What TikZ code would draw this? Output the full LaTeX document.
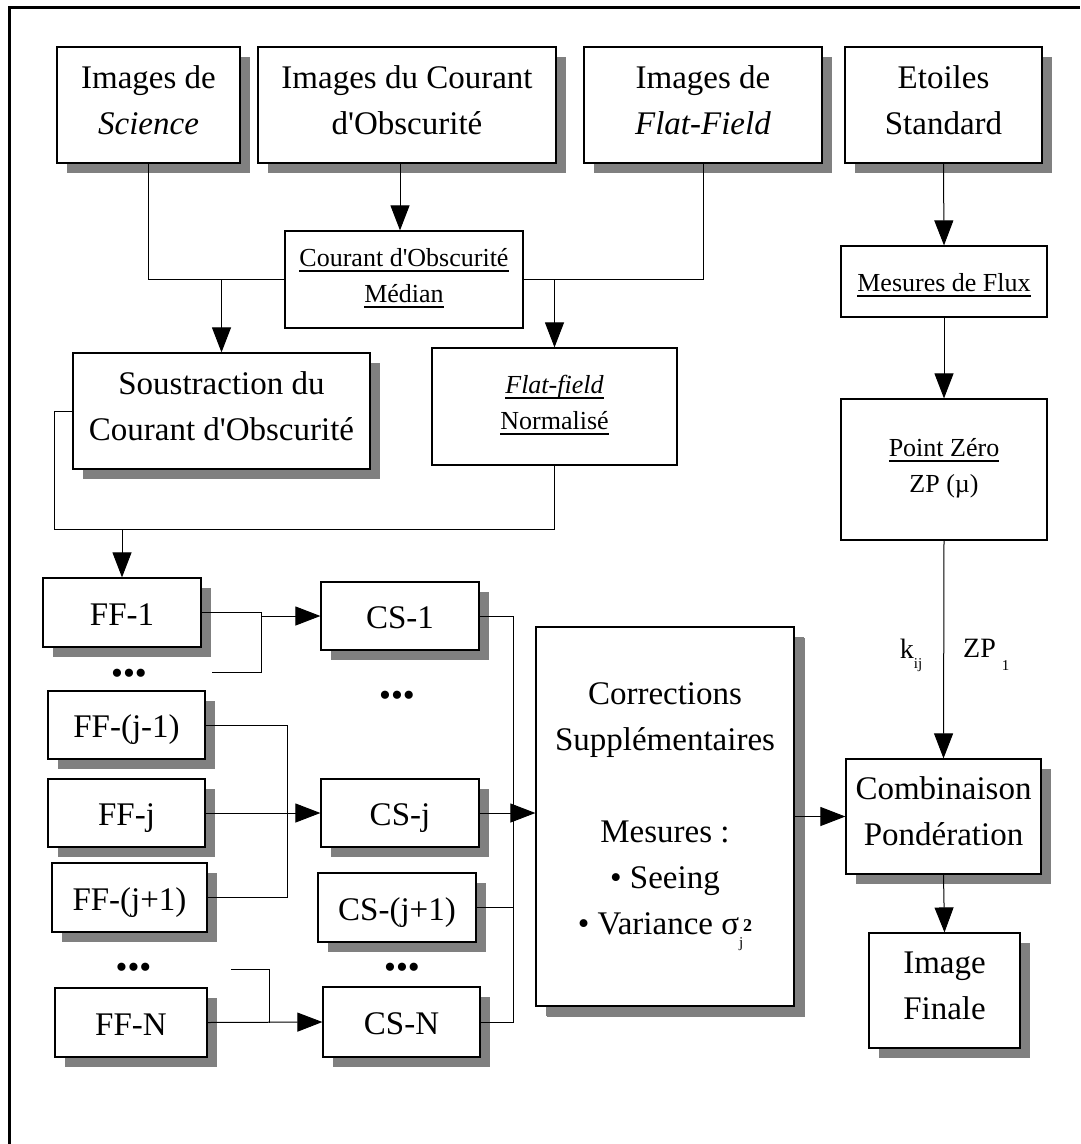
\documentclass[tikz,border=0pt]{standalone}
\usepackage{fontspec}
\setmainfont{Liberation Serif}[Ligatures=TeXOff]
\usetikzlibrary{arrows.meta,shadows}
\definecolor{shade}{HTML}{808080}
\newcommand\sst{\rule[-0.22\baselineskip]{0pt}{\baselineskip}}
\newcommand\ulx[1]{\setbox0\hbox{#1}\rlap{\rule[-5.5pt]{\wd0}{2.5pt}}\box0}
\begin{document}
\begin{tikzpicture}[x=1pt,y=-1pt,
  box/.style={draw=black, line width=1.2pt, fill=white, inner sep=2pt, align=center,
    font=\fontsize{33}{46}\selectfont, execute at begin node=\sst, execute at end node=\sst},
  shad/.style={box, drop shadow={shadow xshift=10pt, shadow yshift=-10pt, fill=shade, opacity=1}},
  small/.style={box, font=\fontsize{26}{36}\selectfont},
  conn/.style={line width=1pt},
  arr/.style={conn, -{Triangle[length=25pt,width=19pt]}},
  dots/.style={font=\fontsize{34}{34}\selectfont, inner sep=0pt},
  lab/.style={font=\fontsize{28}{28}\selectfont, inner sep=0pt}]
\useasboundingbox (0,0) rectangle (1080,1144);
\fill[white] (0,0) rectangle (1080,1144);
\draw[line width=3pt] (9,1144) -- (9,7) -- (1080,7);

% top row
\node[shad, minimum width=183pt, minimum height=116pt] (sci) at (148.5,105) {Images de\\\textit{Science}};
\node[shad, minimum width=298pt, minimum height=116pt] (dark) at (407,105) {Images du Courant\\d'Obscurité};
\node[shad, minimum width=238pt, minimum height=116pt] (flat) at (703,105) {Images de\\\textit{Flat-Field}};
\node[shad, minimum width=197pt, minimum height=116pt] (stars) at (943.5,105) {Etoiles\\Standard};

% second level
\node[small, minimum width=238pt, minimum height=97pt] (median) at (404,279.5) {\ulx{Courant d'Obscurité}\\\ulx{Médian}};
\node[shad, minimum width=297pt, minimum height=116pt] (sous) at (221.5,411) {Soustraction du\\Courant d'Obscurité};
\node[small, minimum width=245pt, minimum height=117pt] (flatnorm) at (554.5,406.5) {\ulx{\textit{Flat-field}}\\\ulx{Normalisé}};
\node[small, minimum width=206pt, minimum height=71pt] (flux) at (944,281.5) {\ulx{Mesures de Flux}};
\node[small, minimum width=206pt, minimum height=141pt] (pz) at (944,469.5) {\ulx{Point Zéro}\\ZP (µ)};

% FF column
\node[shad, minimum width=158pt, minimum height=69pt] (ff1) at (122,612.5) {FF-1};
\node[shad, minimum width=157pt, minimum height=68pt] (ffjm) at (126.5,725) {FF-(j-1)};
\node[shad, minimum width=157pt, minimum height=68pt] (ffj) at (126.5,813) {FF-j};
\node[shad, minimum width=155pt, minimum height=69pt] (ffjp) at (129.5,897.5) {FF-(j+1)};
\node[shad, minimum width=152pt, minimum height=69pt] (ffN) at (131,1022.5) {FF-N};
\node[dots] (dA) at (129,677) {•••};
\node[dots] (dC) at (133.5,971) {•••};

% CS column
\node[shad, minimum width=158pt, minimum height=68pt] (cs1) at (400,616) {CS-1};
\node[shad, minimum width=158pt, minimum height=68pt] (csj) at (400,813) {CS-j};
\node[shad, minimum width=158pt, minimum height=69pt] (csjp) at (397,907.5) {CS-(j+1)};
\node[shad, minimum width=157pt, minimum height=70pt] (csN) at (401.5,1022) {CS-N};
\node[dots] (dB) at (397,699) {•••};
\node[dots] (dD) at (402,971) {•••};

% right part
\node[shad, minimum width=258pt, minimum height=379pt,
  drop shadow={shadow xshift=11pt, shadow yshift=-11pt, fill=shade, opacity=1}] (corr) at (665,816.5)
  {Corrections\\Supplémentaires\\[46pt]Mesures :\\• Seeing\\• Variance σ\raisebox{-13pt}{\fontsize{15}{15}\selectfont j}\raisebox{3pt}{\fontsize{18}{18}\selectfont\bfseries 2}};
\node[shad, minimum width=195pt, minimum height=115pt] (comb) at (943.5,816.5) {Combinaison\\Pondération};
\node[shad, minimum width=151pt, minimum height=115pt] (fin) at (944.5,990.5) {Image\\Finale};

% connectors, top
\draw[conn] (sci.south) |- (median.west);
\draw[conn] (flat.south) |- (median.east);
\draw[arr] ([xshift=-4pt]dark.south -| median.north) -- ([xshift=-4pt]median.north);
\draw[arr] (sous.north |- median.west) -- (sous.north);
\draw[arr] (flatnorm.north |- median.east) -- (flatnorm.north);
\draw[arr] (stars.south) -- (flux.north);
\draw[arr] (flux.south) -- (pz.north);
\draw[arr] (pz.south) --
  node[lab, pos=0.525, left=21pt] (kij) {k\raisebox{-10pt}{\fontsize{15}{15}\selectfont ij}}
  node[lab, pos=0.525, right=19pt] (zp1) {ZP\hspace{6pt}\raisebox{-13pt}{\fontsize{15}{15}\selectfont 1}}
  (comb.north);

% collect to FF-1
\coordinate (jl) at (54,529);
\draw[conn] (sous.west) -| (jl) -| (flatnorm.south);
\draw[arr] (ff1.north |- jl) -- (ff1.north);

% FF -> CS
\coordinate (d1) at (212,672);
\coordinate (m1) at (261,616);
\draw[conn] (ff1.east) -| (m1);
\draw[conn] (d1) -| (m1);
\draw[arr] (m1) -- (cs1.west);
\coordinate (m2) at (287,813);
\draw[conn] (ffjm.east) -| (m2);
\draw[conn] (ffjp.east) -| (m2);
\draw[arr] (ffj.east) -- (csj.west);
\coordinate (d2) at (231,969);
\coordinate (m3) at (269,1022.5);
\draw[conn] (d2) -| (m3);
\draw[arr] (ffN.east) -- (csN.west);

% CS -> corrections
\coordinate (bus) at (513,1022);
\draw[conn] (cs1.east) -| (bus) -- (csN.east);
\draw[conn] (csjp.east) -- (csjp.east -| bus);
\draw[arr] (csj.east) -- (csj.east -| corr.west);
\draw[arr] (corr.east) -- (comb.west);
\draw[arr] (comb.south) -- (fin.north);
\end{tikzpicture}
\end{document}
